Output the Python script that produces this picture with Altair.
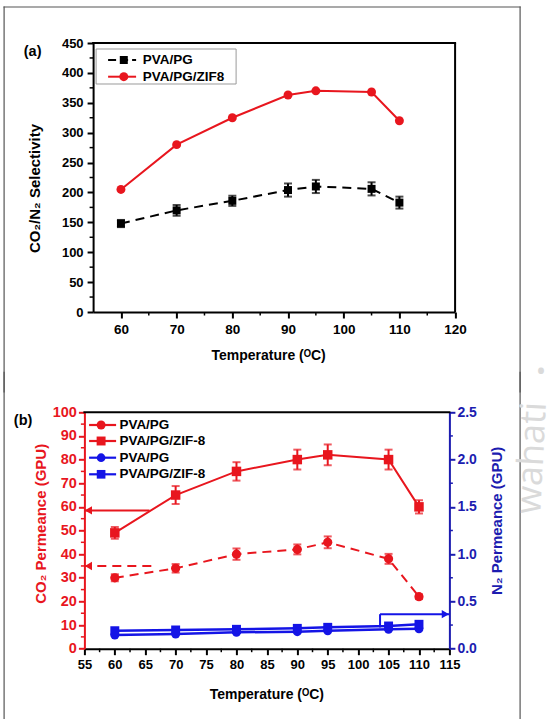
import altair as alt
import pandas as pd

# ---------------------------------------------------------------- data
temps = [60, 70, 80, 90, 95, 105, 110]

# (a) CO2/N2 selectivity
sel_pg = [148, 170, 186, 204, 210, 206, 183]
sel_pg_err = [6, 9, 8.5, 11, 11, 11, 10]
sel_zif = [205, 280, 325, 363, 370, 368, 320]

# (b) CO2 permeance (GPU)
co2_pg = [30, 34, 40, 42, 45, 38, 22]
co2_pg_err = [1.5, 1.8, 2.4, 2.1, 2.5, 2.1, 1.0]
co2_zif = [49, 65, 75, 80, 82, 80, 60]
co2_zif_err = [2.5, 3.8, 3.9, 4.2, 4.4, 4.2, 2.8]

# (b) N2 permeance (GPU)
n2_pg = [0.145, 0.155, 0.173, 0.18, 0.19, 0.205, 0.21]
n2_zif = [0.19, 0.198, 0.205, 0.215, 0.226, 0.24, 0.258]

# axis ticks
a_x_ticks = [60, 70, 80, 90, 100, 110, 120]
a_x_minor = [65, 75, 85, 95, 105, 115]
a_y_ticks = [0, 50, 100, 150, 200, 250, 300, 350, 400, 450]
a_y_minor = [25, 75, 125, 175, 225, 275, 325, 375, 425]
b_x_ticks = [55, 60, 65, 70, 75, 80, 85, 90, 95, 100, 105, 110, 115]
b_x_minor = [57.5, 62.5, 67.5, 72.5, 77.5, 82.5, 87.5, 92.5, 97.5, 102.5, 107.5, 112.5]
b_y_ticks = [0, 10, 20, 30, 40, 50, 60, 70, 80, 90, 100]
b_y_minor = [5, 15, 25, 35, 45, 55, 65, 75, 85, 95]
b_y2_ticks = [0.0, 0.5, 1.0, 1.5, 2.0, 2.5]
b_y2_minor = [0.25, 0.75, 1.25, 1.75, 2.25]

# arrows pointing each curve family to its axis
co2_arrow_solid = {"t": [65.7], "t2": [55], "v": [58.5]}
co2_arrow_dashed = {"t": [66], "t2": [55], "v": [35]}
n2_arrow = {"t": [103.6], "t2": [115], "v": [0.225], "v2": [0.365]}

legend_a = ["PVA/PG", "PVA/PG/ZIF8"]
legend_b = ["PVA/PG", "PVA/PG/ZIF-8", "PVA/PG", "PVA/PG/ZIF-8"]

# ---------------------------------------------------------------- style
FONT = "Liberation Sans"
RED = "#e8161e"
BLUE = "#1414e6"
BLUE_AX = "#1c1cb0"
FRAME = "#555555"
WATERMARK = "#dadada"

# both panels share the same group origin; panel (a) draws its plot box
# inside [XA0, XA1] of its group so its axes sit a little further right
XA0, XA1 = 8.7, 370.7
W_A, H_A = XA1, 269
W_B, H_B = 365, 236.4
GAP = 100.3             # from the bottom of plot (a) to the top of plot (b)
FRAME_L, FRAME_R = -80.3, 435.7

one = pd.DataFrame({"k": [0]})


def seg(x, y, x2=None, y2=None, color="black", width=2, dash=None, cap="butt"):
    kw = dict(color=color, strokeWidth=width, strokeCap=cap)
    if dash:
        kw["strokeDash"] = dash
    enc = dict(x=alt.value(x), y=alt.value(y))
    if x2 is not None:
        enc["x2"] = alt.value(x2)
    if y2 is not None:
        enc["y2"] = alt.value(y2)
    return alt.Chart(one).mark_rule(**kw).encode(**enc)


def label(txt, x, y, size=13.5, color="black", align="left"):
    return alt.Chart(one).mark_text(
        text=txt, font=FONT, fontSize=size, fontWeight="bold", color=color,
        align=align, baseline="middle"
    ).encode(x=alt.value(x), y=alt.value(y))


def faint(txt, x, y, size, angle):
    return alt.Chart(one).mark_text(
        text=txt, font="Open Sans", fontSize=size, color=WATERMARK,
        angle=angle, align="center", baseline="middle"
    ).encode(x=alt.value(x), y=alt.value(y))


def sym(x, y, shape, color, size):
    return alt.Chart(one).mark_point(
        shape=shape, filled=True, color=color, size=size, opacity=1
    ).encode(x=alt.value(x), y=alt.value(y))


def x_axis(values, title_x, title_y, size):
    return alt.Axis(
        values=values, format="d", grid=False, labelFlush=False, labelOverlap=False,
        domainColor="black", domainWidth=2, tickColor="black", tickWidth=2, tickSize=6,
        labelColor="black", labelFont=FONT, labelFontSize=size, labelFontWeight="bold",
        labelPadding=4, title="Temperature (ᴼC)", titleFont=FONT, titleFontSize=14,
        titleFontWeight="bold", titleColor="black", titleX=title_x, titleY=title_y,
        titleBaseline="middle", titleAlign="center", titleAngle=0,
    )


def y_axis(values, fmt, title, color, orient, title_x, title_y, size, pad, tick, offset=0):
    return alt.Axis(
        values=values, format=fmt, grid=False, orient=orient, labelOverlap=False,
        labelFlush=False, offset=offset,
        domainColor=color, domainWidth=2, tickColor=color, tickWidth=2, tickSize=tick,
        labelColor=color, labelFont=FONT, labelFontSize=size, labelFontWeight="bold",
        labelPadding=pad, title=title, titleFont=FONT, titleFontSize=15,
        titleFontWeight="bold", titleColor=color, titleX=title_x, titleY=title_y,
        titleAngle=270, titleAlign="center", titleBaseline="middle",
    )


# ---------------------------------------------------------------- panel (a)
AX_X_A = x_axis(a_x_ticks, 183.7, 43, 13.5)
AX_Y_A = y_axis(a_y_ticks, "d", "CO₂/N₂ Selectivity", "black", "left", -59, 145, 13, 4, 6, offset=-XA0)


def xa(field):
    return alt.X(f"{field}:Q", axis=AX_X_A,
                 scale=alt.Scale(domain=[55, 120], range=[XA0, XA1], nice=False, zero=False))


def ya(field):
    return alt.Y(f"{field}:Q", scale=alt.Scale(domain=[0, 450], nice=False, zero=False), axis=AX_Y_A)


df_pg = pd.DataFrame({"t": temps, "v": sel_pg, "e": sel_pg_err})
df_pg["lo"] = df_pg["v"] - df_pg["e"]
df_pg["hi"] = df_pg["v"] + df_pg["e"]
df_zif = pd.DataFrame({"t": temps, "v": sel_zif})

a_layers = [
    alt.Chart(df_pg).mark_line(color="black", strokeWidth=2, strokeDash=[9, 6]).encode(x=xa("t"), y=ya("v")),
    alt.Chart(df_pg).mark_rule(color="black", strokeWidth=2).encode(x=xa("t"), y=ya("lo"), y2="hi:Q"),
    alt.Chart(df_pg).mark_tick(color="black", orient="horizontal", size=8, thickness=2).encode(x=xa("t"), y=ya("lo")),
    alt.Chart(df_pg).mark_tick(color="black", orient="horizontal", size=8, thickness=2).encode(x=xa("t"), y=ya("hi")),
    alt.Chart(df_pg).mark_point(shape="square", filled=True, color="black", size=64, opacity=1).encode(x=xa("t"), y=ya("v")),
    alt.Chart(df_zif).mark_line(color=RED, strokeWidth=2).encode(x=xa("t"), y=ya("v")),
    alt.Chart(df_zif).mark_point(shape="circle", filled=True, color=RED, size=80, opacity=1).encode(x=xa("t"), y=ya("v")),
    # minor ticks
    alt.Chart(pd.DataFrame({"t": a_x_minor})).mark_rule(color="black", strokeWidth=1.5).encode(
        x=xa("t"), y=alt.value(H_A), y2=alt.value(H_A + 3.5)),
    alt.Chart(pd.DataFrame({"v": a_y_minor})).mark_rule(color="black", strokeWidth=1.5).encode(
        y=ya("v"), x=alt.value(XA0 - 3.5), x2=alt.value(XA0)),
    # plot box (top, right)
    seg(XA0 - 1, 0, x2=XA1 + 1, color="black", width=2),
    seg(XA1, 0, y2=H_A, color="black", width=2),
    # legend
    alt.Chart(one).mark_rect(fill="white", stroke="#9a9a9a", strokeWidth=1).encode(
        x=alt.value(XA0 + 3), x2=alt.value(XA0 + 143), y=alt.value(6), y2=alt.value(41)),
    seg(XA0 + 15, 17, x2=XA0 + 43, color="black", width=2, dash=[8, 4]),
    sym(XA0 + 30.7, 17, "square", "black", 64),
    label(legend_a[0], XA0 + 49.7, 17),
    seg(XA0 + 15, 33.7, x2=XA0 + 43, color=RED, width=2),
    sym(XA0 + 30.7, 33.7, "circle", RED, 80),
    label(legend_a[1], XA0 + 49.7, 33.7),
    label("(a)", XA0 - 60.5, 8.7, size=14.5, align="center"),
    # outer frame (top part)
    seg(FRAME_L, -36, y2=H_A + 80, color=FRAME, width=1.2, cap="square"),
    seg(FRAME_L, -36, x2=FRAME_R, color=FRAME, width=1.2, cap="square"),
    seg(FRAME_R, -36, y2=H_A + 80, color=FRAME, width=1.2, cap="square"),
    faint("•", 456.7, 330.4, 28, 0),
]
chart_a = alt.layer(*a_layers).properties(width=W_A, height=H_A)

# ---------------------------------------------------------------- panel (b)
AX_X_B = x_axis(b_x_ticks, 182, 46.3, 13)
AX_Y_B = y_axis(b_y_ticks, "d", "CO₂ Permeance (GPU)", RED, "left", -44, 111, 14.5, 2, 6)
AX_Y2_B = y_axis(b_y2_ticks, ".1f", "N₂ Permeance (GPU)", BLUE_AX, "right", 47, 108, 14, 2, 5.5)


def xb(field):
    return alt.X(f"{field}:Q", scale=alt.Scale(domain=[55, 115], nice=False, zero=False), axis=AX_X_B)


def yb(field):
    return alt.Y(f"{field}:Q", scale=alt.Scale(domain=[0, 100], nice=False, zero=False), axis=AX_Y_B)


def yb2(field):
    return alt.Y(f"{field}:Q", scale=alt.Scale(domain=[0, 2.5], nice=False, zero=False), axis=AX_Y2_B)


def with_err(values, errs):
    d = pd.DataFrame({"t": temps, "v": values, "e": errs})
    d["lo"] = d["v"] - d["e"]
    d["hi"] = d["v"] + d["e"]
    return d


df_co2_zif = with_err(co2_zif, co2_zif_err)
df_co2_pg = with_err(co2_pg, co2_pg_err)


def err_layers(d):
    return [
        alt.Chart(d).mark_rule(color=RED, strokeWidth=2).encode(x=xb("t"), y=yb("lo"), y2="hi:Q"),
        alt.Chart(d).mark_tick(color=RED, orient="horizontal", size=8, thickness=2).encode(x=xb("t"), y=yb("lo")),
        alt.Chart(d).mark_tick(color=RED, orient="horizontal", size=8, thickness=2).encode(x=xb("t"), y=yb("hi")),
    ]


sa = pd.DataFrame(co2_arrow_solid)
da = pd.DataFrame(co2_arrow_dashed)
red_group = alt.layer(
    alt.Chart(df_co2_zif).mark_line(color=RED, strokeWidth=2).encode(x=xb("t"), y=yb("v")),
    *err_layers(df_co2_zif),
    alt.Chart(df_co2_zif).mark_point(shape="square", filled=True, color=RED, size=90, opacity=1).encode(x=xb("t"), y=yb("v")),
    alt.Chart(df_co2_pg).mark_line(color=RED, strokeWidth=2, strokeDash=[9, 6]).encode(x=xb("t"), y=yb("v")),
    *err_layers(df_co2_pg),
    alt.Chart(df_co2_pg).mark_point(shape="circle", filled=True, color=RED, size=85, opacity=1).encode(x=xb("t"), y=yb("v")),
    # arrows towards the CO2 axis
    alt.Chart(sa).mark_rule(color=RED, strokeWidth=2).encode(x=xb("t"), x2="t2:Q", y=yb("v")),
    alt.Chart(sa).mark_point(shape="triangle-left", filled=True, color=RED, size=70, opacity=1, xOffset=4).encode(x=xb("t2"), y=yb("v")),
    alt.Chart(da).mark_rule(color=RED, strokeWidth=2, strokeDash=[9, 6]).encode(x=xb("t"), x2="t2:Q", y=yb("v")),
    alt.Chart(da).mark_point(shape="triangle-left", filled=True, color=RED, size=70, opacity=1, xOffset=4).encode(x=xb("t2"), y=yb("v")),
    # minor ticks
    alt.Chart(pd.DataFrame({"t": b_x_minor})).mark_rule(color="black", strokeWidth=1.5).encode(
        x=xb("t"), y=alt.value(H_B), y2=alt.value(H_B + 3.5)),
    alt.Chart(pd.DataFrame({"v": b_y_minor})).mark_rule(color=RED, strokeWidth=1.5).encode(
        y=yb("v"), x=alt.value(-3.5), x2=alt.value(0)),
)

df_n2_pg = pd.DataFrame({"t": temps, "v": n2_pg})
df_n2_zif = pd.DataFrame({"t": temps, "v": n2_zif})
na = pd.DataFrame(n2_arrow)
blue_group = alt.layer(
    alt.Chart(df_n2_pg).mark_line(color=BLUE, strokeWidth=2.5).encode(x=xb("t"), y=yb2("v")),
    alt.Chart(df_n2_pg).mark_point(shape="circle", filled=True, color=BLUE, size=80, opacity=1).encode(x=xb("t"), y=yb2("v")),
    alt.Chart(df_n2_zif).mark_line(color=BLUE, strokeWidth=2.5).encode(x=xb("t"), y=yb2("v")),
    alt.Chart(df_n2_zif).mark_point(shape="square", filled=True, color=BLUE, size=80, opacity=1).encode(x=xb("t"), y=yb2("v")),
    # arrow towards the N2 axis
    alt.Chart(na).mark_rule(color=BLUE, strokeWidth=2).encode(x=xb("t"), y=yb2("v"), y2="v2:Q"),
    alt.Chart(na).mark_rule(color=BLUE, strokeWidth=2).encode(x=xb("t"), x2="t2:Q", y=yb2("v2")),
    alt.Chart(na).mark_point(shape="triangle-right", filled=True, color=BLUE, size=70, opacity=1, xOffset=-4).encode(x=xb("t2"), y=yb2("v2")),
    alt.Chart(pd.DataFrame({"v": b_y2_minor})).mark_rule(color=BLUE_AX, strokeWidth=1.5).encode(
        y=yb2("v"), x=alt.value(W_B), x2=alt.value(W_B + 3.5)),
)

legend_rows_y = [12.7, 28.7, 45.4, 62]
legend_styles = [(RED, "circle", 80), (RED, "square", 80), (BLUE, "circle", 75), (BLUE, "square", 75)]
b_decor = [seg(-1, 0, x2=W_B + 1, color="black", width=2)]
for (col, shp, sz), yy, txt in zip(legend_styles, legend_rows_y, legend_b):
    b_decor += [seg(4.7, yy, x2=31.7, color=col, width=2.2), sym(16.7, yy, shp, col, sz), label(txt, 35, yy)]
b_decor += [
    label("(b)", -61.3, 8.4, size=14.5, align="center"),
    # outer frame (lower part)
    seg(FRAME_L, -40, y2=306, color=FRAME, width=1.2, cap="square"),
    seg(FRAME_R, -40, y2=306, color=FRAME, width=1.2, cap="square"),
    faint("wahati", 447.7, 45.7, 36, 273),
]

chart_b = alt.layer(red_group, blue_group, *b_decor).resolve_scale(y="independent").properties(
    width=W_B, height=H_B)

# panels are stacked by their plot areas only, so the frame pieces may overlap
chart = alt.concat(chart_a, chart_b, columns=1, spacing=GAP, bounds="flush").configure(
    padding={"left": 2.4, "top": 6, "right": 0, "bottom": 0}, background="white"
).configure_view(strokeWidth=0)

chart.save("out.html", embed_options={"renderer": "svg", "actions": False})
